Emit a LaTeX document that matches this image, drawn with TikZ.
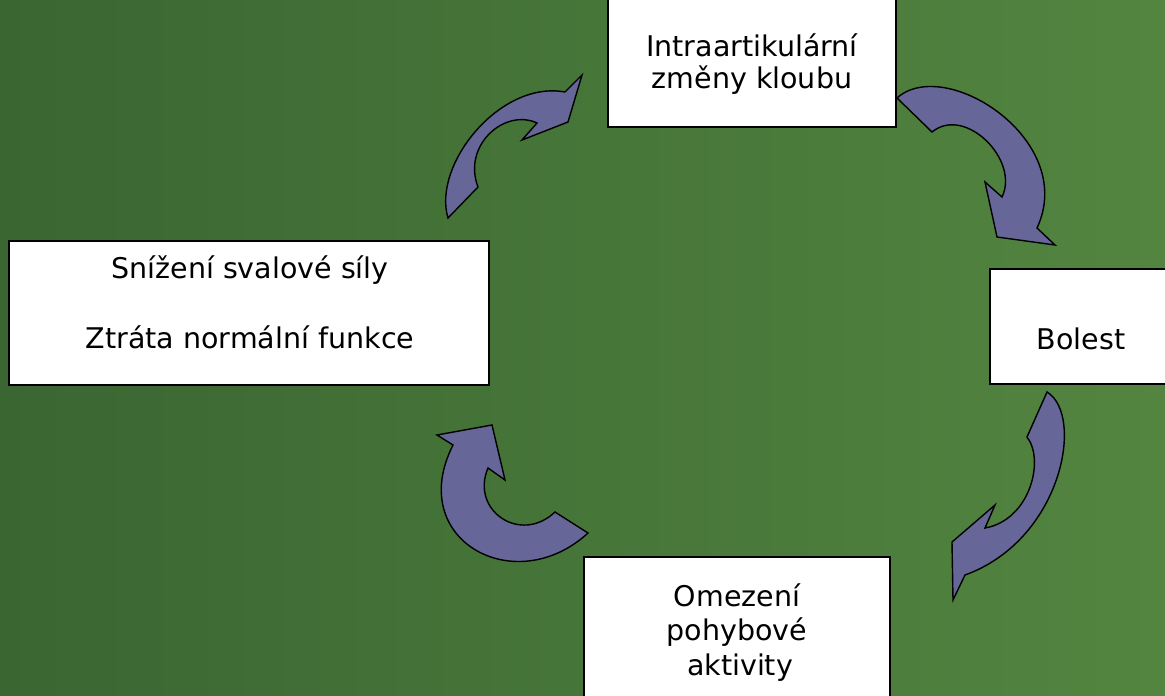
\documentclass[tikz,border=0pt]{standalone}
\usepackage{fontspec}
\setmainfont{DejaVu Sans}
\definecolor{bgL}{HTML}{3A6632}
\definecolor{bgR}{HTML}{538540}
\definecolor{arr}{HTML}{666699}
\begin{document}
\begin{tikzpicture}[x=1pt,y=-1pt,
  box/.style={draw=black,line width=1.4pt,fill=white,inner sep=0pt},
  lbl/.style={inner sep=0pt,font=\fontsize{28.5}{35}\selectfont,align=center,text=black},
  carrow/.style={draw=black,line width=1.4pt,fill=arr,line join=miter}]
\shade[left color=bgL,right color=bgR] (0,0) rectangle (1165,696);
\useasboundingbox (0,0) rectangle (1165,696);
% boxes
\node[box,minimum width=288pt,minimum height=132pt] (top) at (752,61) {};
\node[box,minimum width=480pt,minimum height=144pt] (left) at (249,313) {};
\node[box,minimum width=182pt,minimum height=115pt] (right) at (1081,326.5) {};
\node[box,minimum width=306pt,minimum height=146pt] (bot) at (737,630) {};
% labels
\node[lbl] (t1) at (752,45) {Intraartikulární};
\node[lbl] (t2) at (752,80) {změny kloubu};
\node[lbl] (l1) at (250,270) {Snížení svalové síly};
\node[lbl] (l2) at (250,337) {Ztráta normální funkce};
\node[lbl] (r1) at (1081,339) {Bolest};
\node[lbl] (b1) at (737,595) {Omezení};
\node[lbl] (b2) at (737,632) {pohybové};
\node[lbl] (b3) at (740,668) {aktivity};
% curved arrows
\draw[carrow] (448,218) .. controls (432,165) and (500,80) .. (565,92)
  -- (582,75) -- (568,122) -- (522,140) -- (537,123)
  .. controls (505,108) and (462,145) .. (478,187) -- cycle;
\draw[carrow] (897,98) .. controls (945,55) and (1078,140) .. (1037,228)
  -- (1055,245) -- (997,237) -- (985,182) -- (1002,197)
  .. controls (1020,160) and (965,105) .. (932,132) -- cycle;
\draw[carrow] (1047,392) .. controls (1085,415) and (1062,540) .. (965,575)
  -- (953,600) -- (952,542) -- (995,505) -- (985,528)
  .. controls (1030,520) and (1045,460) .. (1027,437) -- cycle;
\draw[carrow] (588,533) .. controls (515,600) and (405,540) .. (453,445)
  -- (437,435) -- (492,425) -- (505,480) -- (488,468)
  .. controls (470,510) and (520,545) .. (555,512) -- cycle;
\end{tikzpicture}
\end{document}
